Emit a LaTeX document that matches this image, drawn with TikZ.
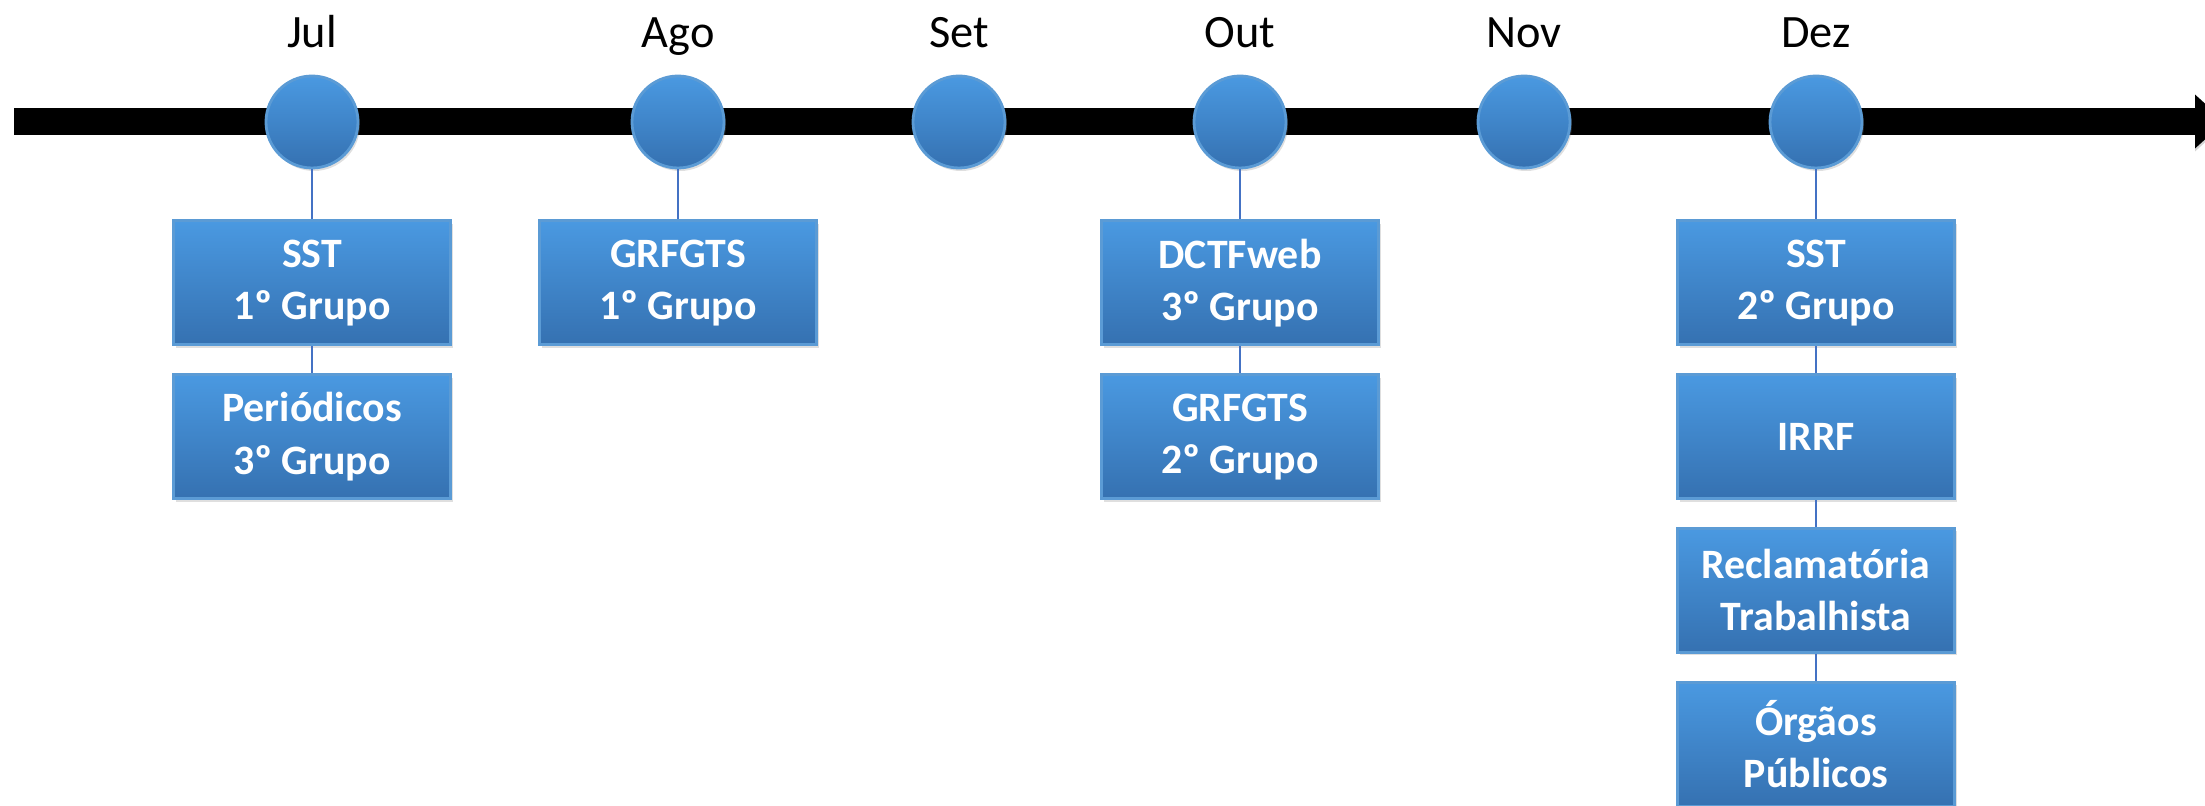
\documentclass[tikz,border=0pt]{standalone}
\usepackage{fontspec}
\setmainfont{Carlito}
\usetikzlibrary{positioning,arrows.meta,shadows}

\definecolor{boxtop}{RGB}{74,153,225}
\definecolor{boxbot}{RGB}{53,113,177}
\definecolor{boxline}{RGB}{91,155,213}
\definecolor{linkblue}{RGB}{68,114,196}

\tikzset{
	month/.style={anchor=base,inner sep=0pt,font=\fontsize{13.2}{15}\selectfont},
	dot/.style={circle,minimum size=0.92cm,inner sep=0pt,draw=boxline,line width=0.8pt,
		top color=boxtop,bottom color=boxbot,
		drop shadow={opacity=0.25,shadow xshift=0.02cm,shadow yshift=-0.03cm}},
	task/.style={rectangle,minimum width=2.77cm,minimum height=1.24cm,inner sep=0pt,
		draw=boxline,line width=0.8pt,top color=boxtop,bottom color=boxbot,
		drop shadow={opacity=0.25,shadow xshift=0.02cm,shadow yshift=-0.03cm},
		text=white,align=center,font=\bfseries\fontsize{11.9}{14.8}\selectfont},
	link/.style={draw=linkblue,line width=0.6pt}
}

\begin{document}
\begin{tikzpicture}

	\useasboundingbox (0,0) rectangle (22.05,-8.06);
	\clip (0,0) rectangle (22.05,-8.06);

	% timeline
	\coordinate (tstart) at (0.14,-1.215);
	\coordinate (tend) at (22.25,-1.215);
	\draw[line width=0.27cm,-{Triangle[width=0.52cm,length=0.3cm]},
		preaction={draw=black!40,opacity=0.4,transform canvas={yshift=-0.03cm}}]
		(tstart) -- (tend);

	% months
	\node (cjul) [dot] at (3.12,-1.22) {};
	\node (cago) [dot] at (6.78,-1.22) {};
	\node (cset) [dot] at (9.59,-1.22) {};
	\node (cout) [dot] at (12.40,-1.22) {};
	\node (cnov) [dot] at (15.24,-1.22) {};
	\node (cdez) [dot] at (18.16,-1.22) {};

	\node (ljul) [month] at (3.12,-0.48) {Jul};
	\node (lago) [month] at (6.78,-0.48) {Ago};
	\node (lset) [month] at (9.59,-0.48) {Set};
	\node (lout) [month] at (12.40,-0.48) {Out};
	\node (lnov) [month] at (15.24,-0.48) {Nov};
	\node (ldez) [month] at (18.16,-0.48) {Dez};

	% tasks
	\node (jul1) [task,below=0.5cm of cjul] {SST\\1º Grupo};
	\node (jul2) [task,below=0.27cm of jul1] {Periódicos\\3º Grupo};
	\node (ago1) [task,below=0.5cm of cago] {GRFGTS\\1º Grupo};
	\node (out1) [task,below=0.5cm of cout] {DCTFweb\\3º Grupo};
	\node (out2) [task,below=0.27cm of out1] {GRFGTS\\2º Grupo};
	\node (dez1) [task,below=0.5cm of cdez] {SST\\2º Grupo};
	\node (dez2) [task,below=0.27cm of dez1] {IRRF};
	\node (dez3) [task,below=0.27cm of dez2] {Reclamatória\\Trabalhista};
	\node (dez4) [task,below=0.27cm of dez3] {Órgãos\\Públicos};

	\draw[link] (cjul) -- (jul1);
	\draw[link] (jul1) -- (jul2);
	\draw[link] (cago) -- (ago1);
	\draw[link] (cout) -- (out1);
	\draw[link] (out1) -- (out2);
	\draw[link] (cdez) -- (dez1);
	\draw[link] (dez1) -- (dez2);
	\draw[link] (dez2) -- (dez3);
	\draw[link] (dez3) -- (dez4);

\end{tikzpicture}
\end{document}
